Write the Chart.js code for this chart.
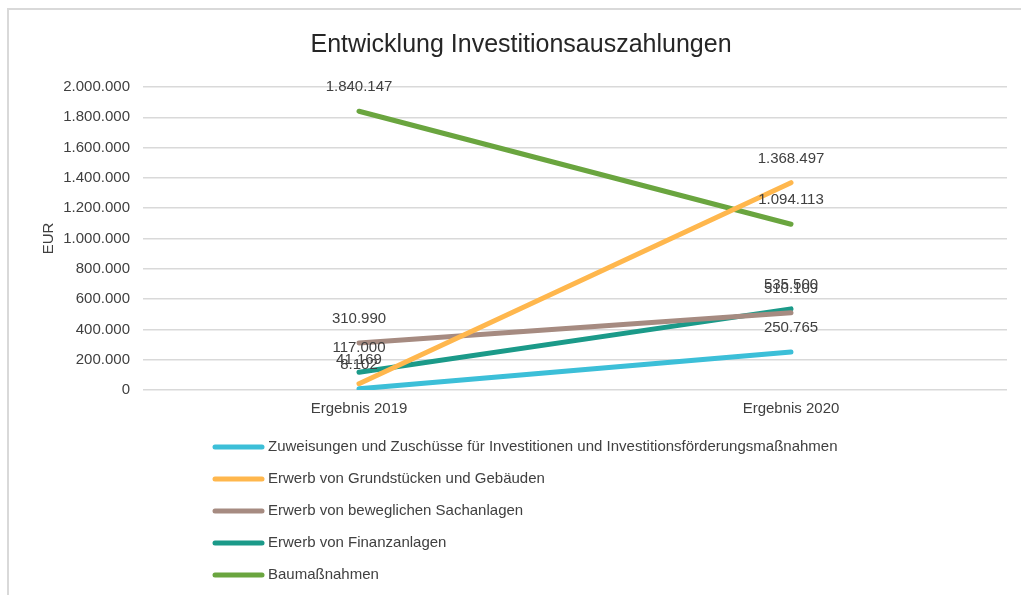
<!DOCTYPE html>
<html>
<head>
<meta charset="utf-8">
<script src="https://cdn.jsdelivr.net/npm/chart.js@4.4.1/dist/chart.umd.min.js"></script>
<style>
  html, body { margin: 0; padding: 0; background: #fff; }
  #wrap { position: relative; width: 1021px; height: 595px; overflow: hidden; }
  #frame { position: absolute; left: 7px; top: 8px; width: 1100px; height: 700px;
           border-left: 2px solid #d9d9d9; border-top: 2px solid #d9d9d9; }
  canvas { position: absolute; left: 0; top: 0; }
</style>
</head>
<body>
<div id="wrap">
  <div id="frame"></div>
  <canvas id="chart" width="1021" height="595"></canvas>
</div>
<script>
const categories = ['Ergebnis 2019', 'Ergebnis 2020'];

const seriesNames = [
  'Zuweisungen und Zuschüsse für Investitionen und Investitionsförderungsmaßnahmen',
  'Erwerb von Grundstücken und Gebäuden',
  'Erwerb von beweglichen Sachanlagen',
  'Erwerb von Finanzanlagen',
  'Baumaßnahmen'
];

const zuweisungen = [8102, 250765];
const grundstuecke = [41169, 1368497];
const beweglich = [310990, 510109];
const finanzanlagen = [117000, 535500];
const baumassnahmen = [1840147, 1094113];

const colors = ['#3cbfd8', '#ffb74d', '#a68b81', '#1b9a89', '#6aa53f'];

const yMax = 2000000;
const yStep = 200000;

const FONT = '"Liberation Sans", Arial, sans-serif';
const fmt = v => Math.round(v).toString().replace(/\B(?=(\d{3})+(?!\d))/g, '.');

const seriesValues = [zuweisungen, grundstuecke, beweglich, finanzanlagen, baumassnahmen];

const datasets = seriesValues.map((vals, i) => ({
  label: seriesNames[i],
  data: vals,
  borderColor: colors[i],
  backgroundColor: colors[i],
  borderWidth: 5,
  borderCapStyle: 'round',
  pointRadius: 0,
  pointHoverRadius: 0,
  tension: 0
}));

// labels above each point
const valueLabels = {
  id: 'valueLabels',
  afterDatasetsDraw(chart) {
    const ctx = chart.ctx;
    ctx.save();
    ctx.font = '15px ' + FONT;
    ctx.fillStyle = '#404040';
    ctx.textAlign = 'center';
    ctx.textBaseline = 'middle';
    chart.data.datasets.forEach((ds, i) => {
      chart.getDatasetMeta(i).data.forEach((pt, j) => {
        ctx.fillText(fmt(ds.data[j]), pt.x, pt.y - 24);
      });
    });
    ctx.restore();
  }
};

// vertical legend, left aligned under the chart
const listLegend = {
  id: 'listLegend',
  afterDraw(chart) {
    const ctx = chart.ctx;
    ctx.save();
    ctx.font = '15px ' + FONT;
    ctx.textBaseline = 'middle';
    ctx.lineCap = 'round';
    chart.data.datasets.forEach((ds, i) => {
      const y = 447 + i * 32;
      ctx.strokeStyle = ds.borderColor;
      ctx.lineWidth = 5;
      ctx.beginPath();
      ctx.moveTo(215, y);
      ctx.lineTo(262, y);
      ctx.stroke();
      ctx.fillStyle = '#404040';
      ctx.fillText(ds.label, 268, y);
    });
    ctx.restore();
  }
};

new Chart(document.getElementById('chart'), {
  type: 'line',
  data: { labels: categories, datasets: datasets },
  plugins: [valueLabels, listLegend],
  options: {
    responsive: false,
    animation: false,
    layout: { padding: { left: 35, right: 14, top: 0, bottom: 175 } },
    plugins: {
      legend: { display: false },
      tooltip: { enabled: false },
      title: {
        display: true,
        text: 'Entwicklung Investitionsauszahlungen',
        color: '#262626',
        font: { family: FONT, size: 25, weight: 'normal' },
        padding: { top: 30, bottom: 27 }
      }
    },
    scales: {
      x: {
        offset: true,
        grid: { display: false },
        border: { display: false },
        ticks: {
          color: '#404040',
          padding: 2,
          font: { family: FONT, size: 15 }
        },
        afterFit(scale) { scale.height = 30; }
      },
      y: {
        min: 0,
        max: yMax,
        grid: { color: '#d9d9d9', lineWidth: 1.5, drawTicks: false },
        border: { display: false },
        ticks: {
          stepSize: yStep,
          color: '#404040',
          padding: 13,
          font: { family: FONT, size: 15 },
          callback: v => fmt(v)
        },
        title: {
          display: true,
          text: 'EUR',
          color: '#404040',
          font: { family: FONT, size: 15 },
          padding: { top: 5, bottom: 0 }
        },
        afterFit(scale) { scale.width = 108; }
      }
    }
  }
});
</script>
</body>
</html>
